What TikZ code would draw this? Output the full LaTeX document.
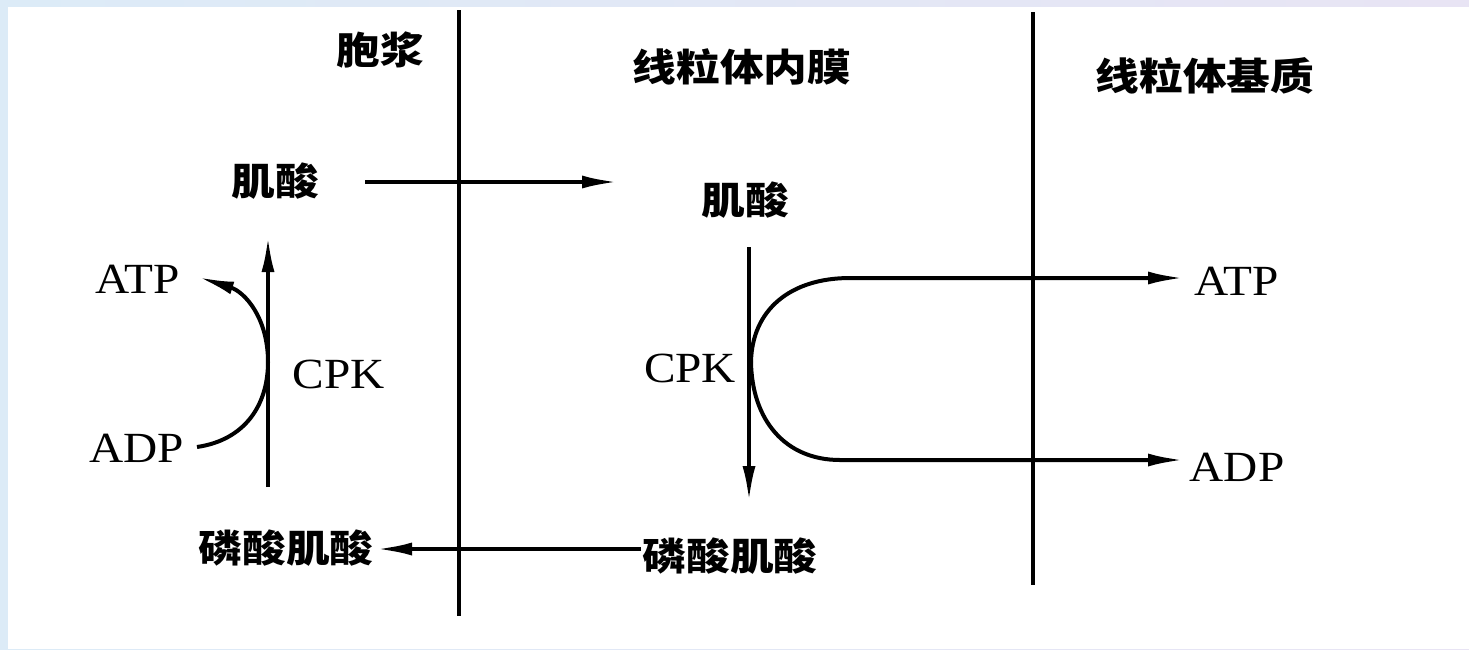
\documentclass[tikz,border=0pt]{standalone}
\usepackage{fontspec}
\setmainfont{Liberation Serif}
\newfontfamily\cjk{Noto Sans CJK SC}
\usetikzlibrary{arrows.meta}
\definecolor{bgblue}{HTML}{DCEBF7}
\definecolor{bglav}{HTML}{E8E4F4}
\begin{document}
\begin{tikzpicture}[x=1pt,y=-1pt,
  cn/.style={font=\cjk\bfseries\fontsize{38}{40}\selectfont, inner sep=0pt, xscale=1.15},
  lt/.style={font=\fontsize{43}{45}\selectfont, inner sep=0pt, xscale=1.1},
  wall/.style={line width=4.5pt},
  ln/.style={line width=4pt},
  arr/.style={-{Latex[length=36pt,width=13pt]}}]
\useasboundingbox (0,0) rectangle (1469,649);
\shade[left color=bgblue, right color=bglav] (0,0) rectangle (1469,649);
\fill[white] (8,7) rectangle (1469,649);

% labels
\node[cn] (cyto) at (380,50) {胞浆};
\node[cn] (imm) at (742,67) {线粒体内膜};
\node[cn] (mat) at (1205,76) {线粒体基质};
\node[cn] (crL) at (275,181) {肌酸};
\node[cn] (crR) at (745,200) {肌酸};
\node[lt] (atpL) at (138,279) {ATP};
\node[lt] (adpL) at (137,448) {ADP};
\node[lt] (cpkL) at (339,374) {CPK};
\node[lt] (cpkR) at (690,368) {CPK};
\node[lt] (atpR) at (1237,281) {ATP};
\node[lt] (adpR) at (1237,467) {ADP};
\node[cn] (pcrL) at (286,548) {磷酸肌酸};
\node[cn] (pcrR) at (730,556) {磷酸肌酸};

% membranes
\coordinate (w1t) at (459,10);
\coordinate (w1b) at (459,616);
\coordinate (w2t) at (1033,12);
\coordinate (w2b) at (1033,585);
\draw[wall] (w1t) -- (w1b);
\draw[wall] (w2t) -- (w2b);

% creatine transport
\coordinate (crs) at (365,182);
\coordinate (cre) at (618,182);
\draw[ln,arr] (crs) -- (cre);

% phosphocreatine transport
\coordinate (pcs) at (641,549);
\coordinate (pce) at (376,549);
\draw[ln,arr] (pcs) -- (pce);

% left CPK
\coordinate (lvb) at (268,487);
\coordinate (lvt) at (268,236);
\draw[ln,arr] (lvb) -- (lvt);
\coordinate (ladp) at (197,447);
\coordinate (latp) at (198,277);
\coordinate (lmid) at (268,362);
\draw[ln,arr] (ladp) .. controls (245,440) and (268,405) .. (lmid)
  .. controls (268,318) and (245,292) .. (latp);

% right CPK
\coordinate (rvt) at (749,247);
\coordinate (rvb) at (749,502);
\draw[ln,arr] (rvt) -- (rvb);
\coordinate (rmid) at (751,362);
\coordinate (ratp) at (1184,278);
\coordinate (radp) at (1184,460);
\draw[ln,arr] (rmid) .. controls (752,310) and (790,278) .. (850,278) -- (ratp);
\draw[ln,arr] (rmid) .. controls (752,420) and (785,460) .. (840,460) -- (radp);
\end{tikzpicture}
\end{document}
